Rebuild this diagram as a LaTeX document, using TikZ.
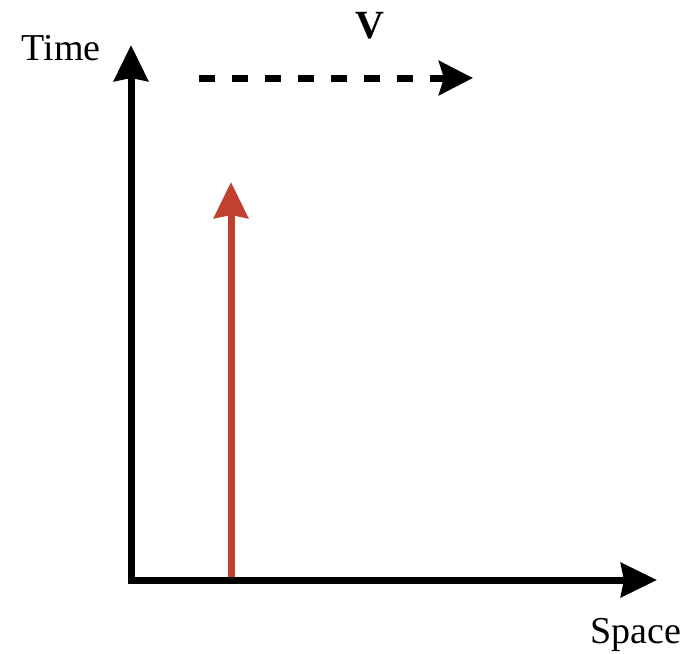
\documentclass[tikz,border=0pt]{standalone}
\usepackage{fontspec}
\setmainfont{Liberation Serif}
\usepackage{tikz}
\usetikzlibrary{arrows.meta,positioning}
\definecolor{WorldRed}{HTML}{C0412F}
\definecolor{WorldBlack}{HTML}{000000}
\tikzset{
    % Axis arrows
    axisarrow/.style={
        {Stealth[length=36pt,width=34pt,inset=3pt]}-{Stealth[length=36pt,width=34pt,inset=3pt]},
        line width=7pt,
        line join=miter,
        draw=WorldBlack
    },
    % World line of the particle
    worldline/.style={
        -{Stealth[length=36pt,width=34pt,inset=3pt]},
        line width=7pt,
        draw=WorldRed
    },
    % Velocity arrow
    velarrow/.style={
        -{Stealth[length=34pt,width=34pt,inset=5pt]},
        line width=7pt,
        dash pattern=on 16pt off 17pt,
        draw=WorldBlack
    },
    % Axis labels
    axislabel/.style={
        font=\fontsize{38}{42}\selectfont,
        inner sep=0pt,
        anchor=base
    }
}
\begin{document}
\begin{tikzpicture}[x=1pt,y=-1pt]
    \useasboundingbox (0,0) rectangle (689,654);
    \coordinate (origin) at (131,580);
    \coordinate (ttip) at (131,45);
    \coordinate (stip) at (657,580);
    \coordinate (rbase) at (231,580);
    \coordinate (rtip) at (231,182);
    \coordinate (vstart) at (199,78);
    \coordinate (vtip) at (473,78);

    \node[axislabel] (time) at (61,60) {Time};
    \node[axislabel] (space) at (636,643) {Space};
    \node[axislabel, font=\fontsize{40}{44}\selectfont\bfseries] (vel) at (370,38) {V};

    \draw[worldline] (rbase) -- (rtip);
    \draw[axisarrow] (ttip) -- (origin) -- (stip);
    \draw[velarrow] (vstart) -- (vtip);
\end{tikzpicture}
\end{document}
